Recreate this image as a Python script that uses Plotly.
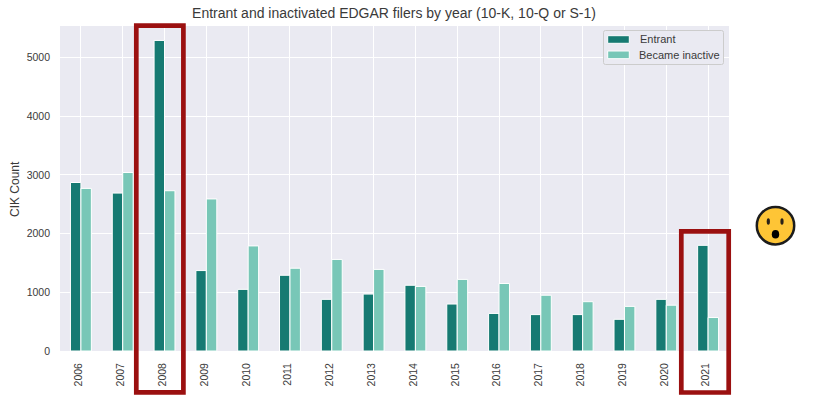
import plotly.graph_objects as go

years = ["2006","2007","2008","2009","2010","2011","2012","2013","2014","2015","2016","2017","2018","2019","2020","2021"]
entrant = [2870,2690,5290,1370,1050,1290,880,970,1120,800,640,620,620,540,880,1800]
inactive = [2770,3040,2730,2590,1790,1410,1560,1390,1100,1220,1150,950,840,760,780,570]
yticks = [0,1000,2000,3000,4000,5000]

W, H = 827, 395
L, R, T, B = 60, 729, 26, 351
FONT = "Liberation Sans"
TEAL, MINT = "#167a72", "#78c7b7"
INK = "#3a3a3a"

def px(x): return (x - L) / (R - L)
def py(y): return (B - y) / (B - T)

fig = go.Figure()
fig.add_bar(name="Entrant", x=years, y=entrant, showlegend=False, marker=dict(color=TEAL, line=dict(color="white", width=1)))
fig.add_bar(name="Became inactive", x=years, y=inactive, showlegend=False, marker=dict(color=MINT, line=dict(color="white", width=1)))

shapes = []
RED = "#9b1010"
for x0, x1, y0, y1 in [(136.3,183.4,25.7,392.3),(681.3,728.7,231.3,392.5)]:
    shapes.append(dict(type="rect", xref="paper", yref="paper", x0=px(x0), x1=px(x1), y0=py(y0), y1=py(y1),
                       line=dict(color=RED, width=4.7), fillcolor="rgba(0,0,0,0)", layer="above"))

def circle(cx, cy, rx, ry, fill, line=None, lw=0):
    return dict(type="circle", xref="paper", yref="paper", x0=px(cx-rx), x1=px(cx+rx), y0=py(cy+ry), y1=py(cy-ry),
                fillcolor=fill, line=dict(color=line or fill, width=lw), layer="above")
shapes += [
    circle(775.5, 225.7, 18.7, 18.7, "#fec536", "#1c1c1c", 2.5),
    circle(768.3, 221.5, 1.6, 3.2, "#2a2118"),
    circle(782, 221.5, 1.6, 3.2, "#2a2118"),
    circle(775.5, 234.3, 3.7, 4.3, "#000000"),
]

# legend panel, drawn to match the wide flat swatches and tight row spacing
lx0, lx1, ly0, ly1, r = 603.5, 723.5, 30.5, 64.5, 2
a, b, c, d = px(lx0), px(lx1), py(ly0), py(ly1)
rx, ry = r/(R-L), r/(B-T)
shapes.append(dict(type="path", xref="paper", yref="paper", layer="above",
    path=f"M{a+rx},{c} L{b-rx},{c} Q{b},{c} {b},{c-ry} L{b},{d+ry} Q{b},{d} {b-rx},{d} L{a+rx},{d} Q{a},{d} {a},{d+ry} L{a},{c-ry} Q{a},{c} {a+rx},{c} Z",
    fillcolor="#eaeaf2", line=dict(color="#cccccc", width=1)))
annotations = [dict(text="CIK Count", xref="paper", yref="paper", x=px(15), y=py(189), xanchor="center", yanchor="middle",
                    textangle=-90, showarrow=False, borderpad=0, font=dict(size=12, color=INK, family=FONT))]
for name, color, sy0, sy1, tx, ty in [("Entrant", TEAL, 35.7, 43.3, 638.5, 39.3),
                                      ("Became inactive", MINT, 51, 58.7, 637.8, 55.3)]:
    shapes.append(dict(type="rect", xref="paper", yref="paper", layer="above",
                       x0=px(607.7), x1=px(629.3), y0=py(sy1), y1=py(sy0), fillcolor=color, line=dict(color="white", width=1)))
    annotations.append(dict(text=name, xref="paper", yref="paper", x=px(tx), y=py(ty), xanchor="left", yanchor="middle",
                            showarrow=False, borderpad=0, font=dict(size=11, color=INK, family=FONT)))

fig.update_layout(
    width=W, height=H, autosize=False,
    margin=dict(l=L, r=W-R, t=T, b=H-B, pad=0),
    paper_bgcolor="white", plot_bgcolor="#eaeaf2",
    font=dict(family=FONT, size=11, color=INK),
    barmode="group", bargap=0.5, bargroupgap=0,
    showlegend=False,
    title=dict(text="Entrant and inactivated EDGAR filers by year (10-K, 10-Q or S-1)",
               x=px(394), xanchor="center", xref="paper", y=1-13/H, yanchor="middle",
               font=dict(size=14, color=INK, family=FONT)),
    xaxis=dict(type="category", tickangle=-90, showgrid=True, gridcolor="white", gridwidth=1, automargin=False,
               showline=False, zeroline=False, ticks="", range=[-0.5,15.5],
               tickfont=dict(size=10.5, color=INK), ticklabelstandoff=9, ticklabelshift=-2),
    yaxis=dict(range=[0,5536], tickvals=yticks, automargin=False,
               showgrid=True, gridcolor="white", gridwidth=1, zeroline=False, showline=False, ticks="",
               tickfont=dict(size=10.5, color=INK), ticklabelstandoff=9),
    shapes=shapes, annotations=annotations,
)
fig.write_html("out.html", post_script="document.body.style.margin='0';", config=dict(displayModeBar=False))
